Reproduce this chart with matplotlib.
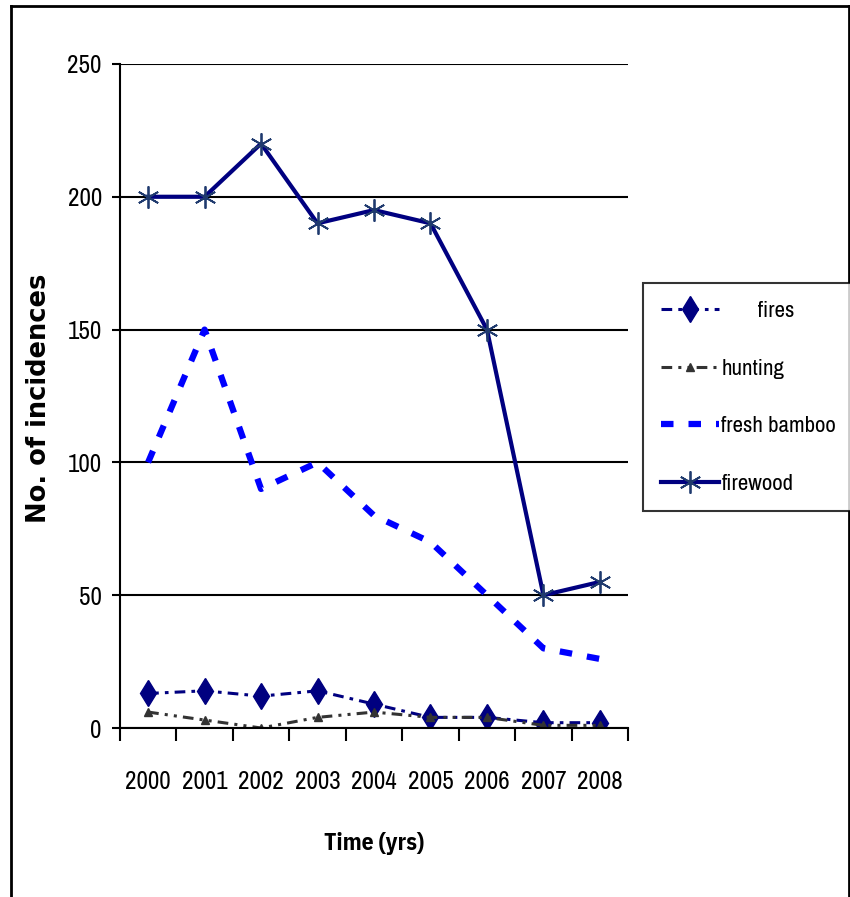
import matplotlib
matplotlib.use("Agg")
import matplotlib.pyplot as plt
from matplotlib.lines import Line2D
from matplotlib.font_manager import FontProperties

# data
years = ["2000", "2001", "2002", "2003", "2004", "2005", "2006", "2007", "2008"]
fires = [13, 14, 12, 14, 9, 4, 4, 2, 2]
hunting = [6, 3, 0, 4, 6, 4, 4, 1, 1]
fresh_bamboo = [100, 150, 90, 100, 80, 70, 50, 30, 26]
firewood = [200, 200, 220, 190, 195, 190, 150, 50, 55]

narrow = ["Archivo Narrow", "DejaVu Sans"]
tick_font = FontProperties(family=narrow, size=18)
leg_font = FontProperties(family=narrow, size=16.5)
xlab_font = FontProperties(family=["IBM Plex Sans Condensed", "DejaVu Sans"],
                           weight="bold", size=17)

fig = plt.figure(figsize=(8.5, 8.97), dpi=100)
ax = fig.add_axes([0.141, 0.1884, 0.598, 0.7403])

x = list(range(len(years)))
ax.plot(x, fires, color="#000080", linestyle=(0, (3.5, 2, 1.2, 2)), lw=2.2,
        marker="d", markersize=13, label="       fires", zorder=4)
ax.plot(x, hunting, color="#333333", linestyle=(0, (3.5, 2, 1, 2, 1, 2)), lw=2.2,
        marker="^", markersize=6, label="hunting", zorder=4)
ax.plot(x, fresh_bamboo, color="#0000FF", linestyle=(0, (2.0, 2.4)), lw=4.5,
        label="fresh bamboo", zorder=3)
ax.plot(x, firewood, color="#000080", lw=3, marker=(6, 2, 0), markersize=16,
        markeredgecolor="#1F3A6E", markeredgewidth=1.3, label="firewood", zorder=3)

ax.set_xlim(-0.5, len(years) - 0.5)
ax.set_ylim(0, 250)
ax.set_yticks([0, 50, 100, 150, 200, 250])
ax.set_xticks(x)
ax.set_xticklabels(years)
ax.set_xticks([i - 0.5 for i in range(len(years) + 1)], minor=True)
ax.tick_params(axis="x", which="major", length=0, pad=30)
ax.tick_params(axis="x", which="minor", length=9, width=1.5, direction="out")
ax.tick_params(axis="y", length=6, width=1.5, direction="out", pad=7)
for lab in ax.get_xticklabels() + ax.get_yticklabels():
    lab.set_fontproperties(tick_font)

ax.grid(axis="y", color="black", lw=1.5)
ax.set_axisbelow(True)
for s in ["top", "right"]:
    ax.spines[s].set_visible(False)
for s in ["left", "bottom"]:
    ax.spines[s].set_linewidth(1.5)
    ax.spines[s].set_zorder(5)

ax.set_xlabel("Time (yrs)", fontproperties=xlab_font)
ax.xaxis.set_label_coords(0.5, -0.157)
ax.set_ylabel("No. of incidences", fontsize=18.5, fontweight="bold", family="DejaVu Sans")
ax.yaxis.set_label_coords(-0.134, 0.497)

leg = fig.legend(loc="upper left", bbox_to_anchor=(0.757, 0.684), frameon=True,
                 fancybox=False, edgecolor="black", prop=leg_font,
                 handlelength=2.55, handletextpad=0.1, labelspacing=1.65,
                 borderpad=0.75, borderaxespad=0)
leg.get_frame().set_linewidth(1.5)

# outer frame around the chart area
fig.add_artist(Line2D([0.013, 0.013], [0.993, 0.0], color="black", lw=2))
fig.add_artist(Line2D([0.013, 0.999], [0.993, 0.993], color="black", lw=2))
fig.add_artist(Line2D([0.999, 0.999], [0.993, 0.0], color="black", lw=2))

fig.savefig("out.png", dpi=100)
